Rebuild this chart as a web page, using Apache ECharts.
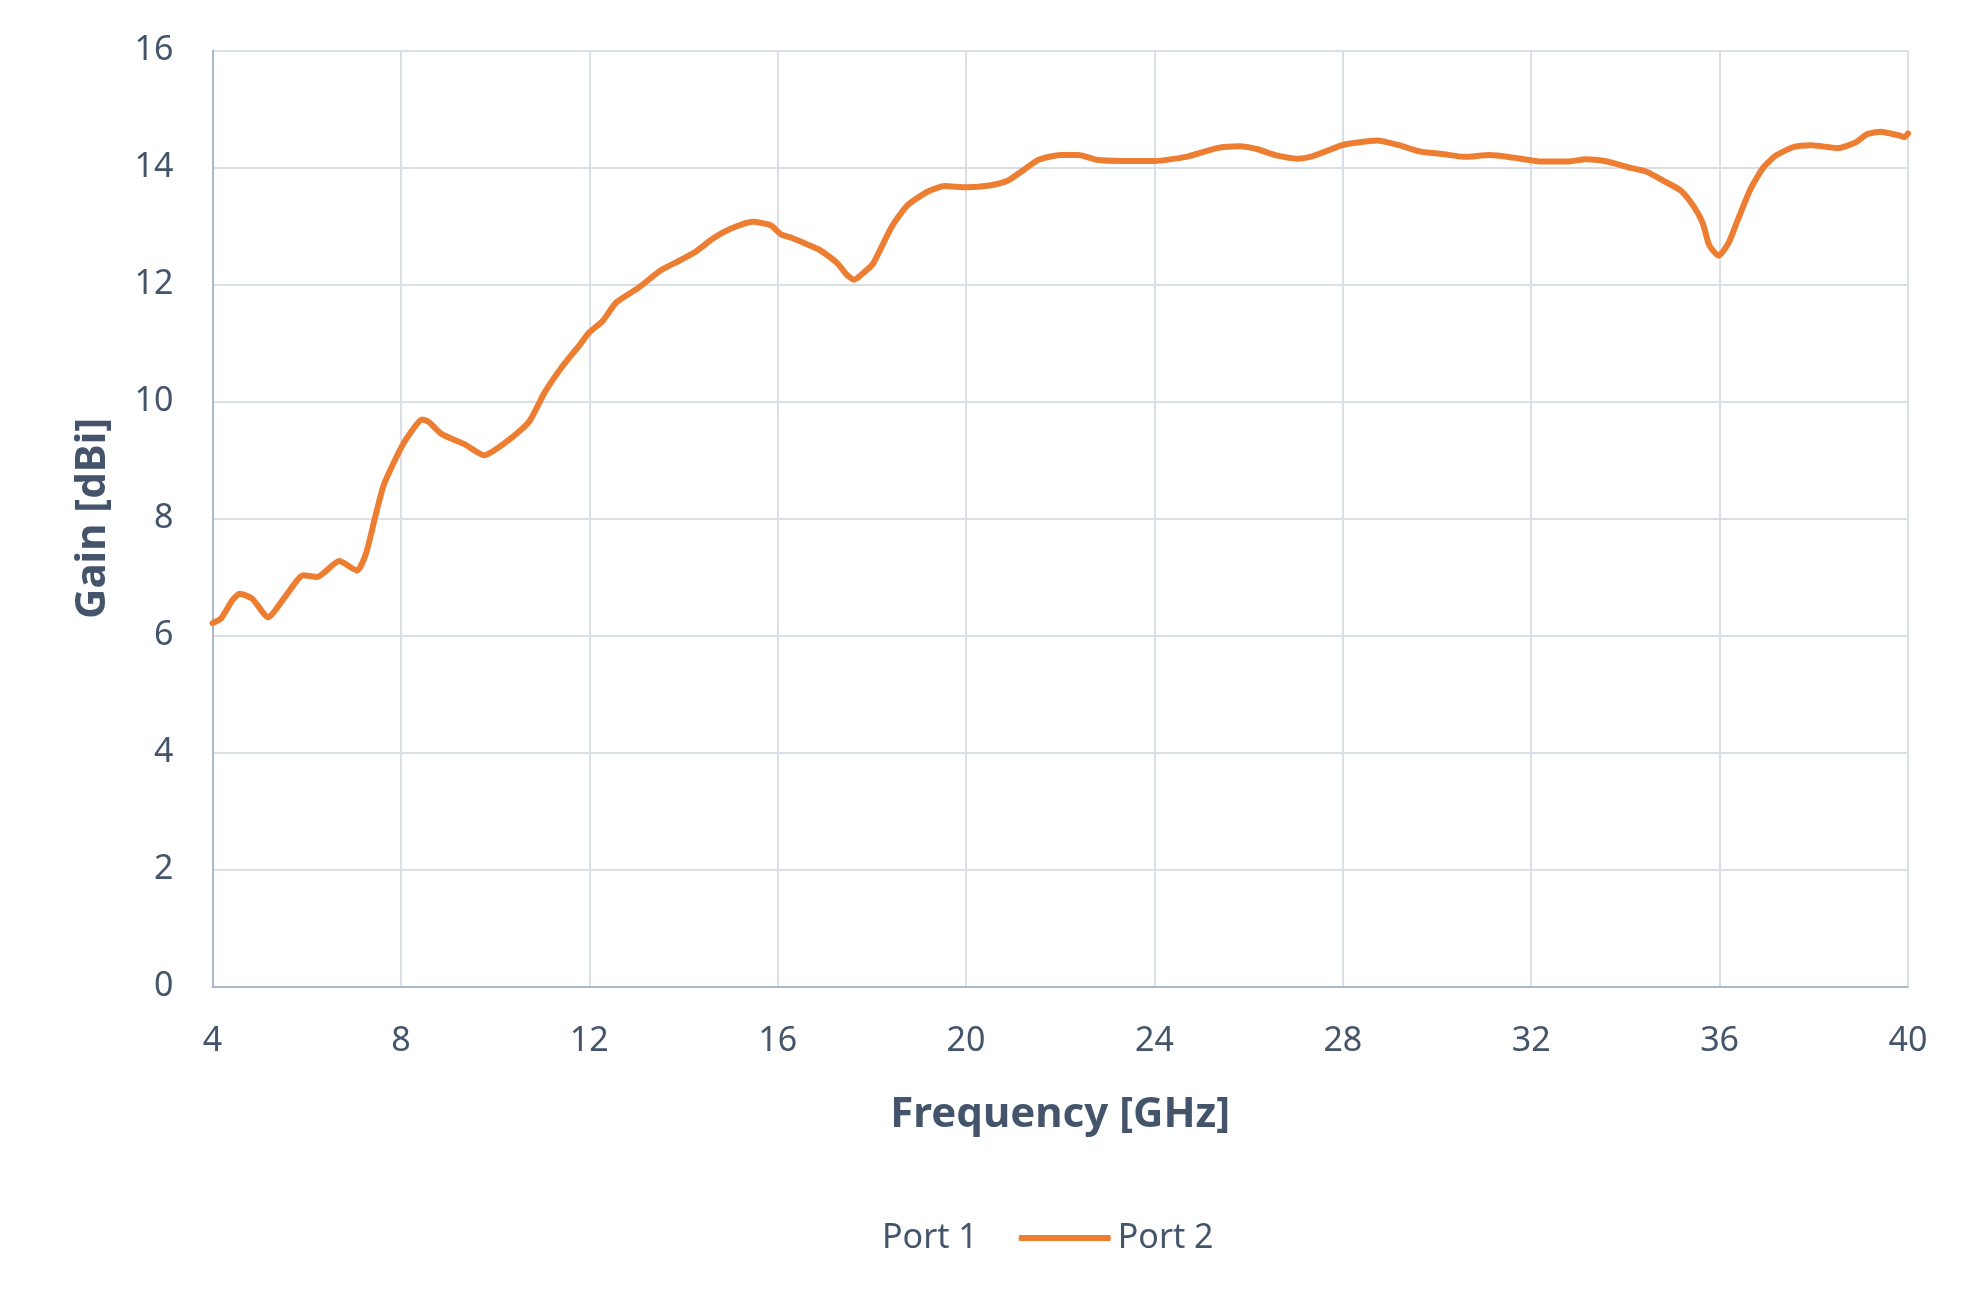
<!DOCTYPE html>
<html><head><meta charset="utf-8">
<script src="https://cdn.jsdelivr.net/npm/echarts@6/dist/echarts.min.js"></script>
<style>html,body{margin:0;padding:0;background:#fff}#c{width:1980px;height:1303px}</style>
</head><body><div id="c"></div>
<script>
const seriesNames = ['Port 1', 'Port 2'];
const port1Freq = [];
const port1Gain = [];
const port2Freq = [4.00,4.18,4.42,4.58,4.84,5.18,5.55,5.93,6.22,6.69,7.07,7.26,7.45,7.64,8.02,8.30,8.45,8.59,8.87,9.35,9.77,10.29,10.72,11.05,11.43,11.81,12.00,12.28,12.57,13.04,13.52,13.90,14.24,14.62,15.00,15.47,15.85,16.08,16.32,16.70,16.89,17.27,17.46,17.62,17.84,18.03,18.41,18.74,19.17,19.55,20.02,20.50,20.88,21.16,21.54,22.01,22.39,22.77,23.34,24.00,24.67,25.33,25.81,26.19,26.57,27.04,27.35,27.62,27.99,28.27,28.73,29.19,29.65,30.11,30.57,31.12,31.68,32.23,32.78,33.15,33.61,34.07,34.44,34.81,35.18,35.46,35.64,35.78,35.98,36.19,36.38,36.65,36.93,37.21,37.58,37.94,38.50,38.87,39.14,39.42,39.79,39.93,40.00];
const port2Gain = [6.21,6.29,6.60,6.71,6.63,6.31,6.67,7.03,7.00,7.27,7.11,7.40,8.01,8.58,9.23,9.57,9.69,9.65,9.44,9.27,9.08,9.34,9.65,10.15,10.60,10.98,11.18,11.37,11.69,11.94,12.24,12.40,12.55,12.78,12.95,13.07,13.01,12.85,12.79,12.66,12.59,12.36,12.17,12.08,12.21,12.36,12.97,13.34,13.58,13.68,13.66,13.69,13.77,13.92,14.13,14.21,14.21,14.13,14.11,14.11,14.18,14.33,14.36,14.31,14.21,14.15,14.19,14.27,14.38,14.42,14.46,14.38,14.27,14.23,14.18,14.21,14.16,14.10,14.10,14.14,14.10,14.00,13.93,13.77,13.60,13.32,13.05,12.67,12.49,12.71,13.09,13.62,14.00,14.21,14.35,14.38,14.33,14.42,14.57,14.61,14.55,14.52,14.58];
const xTicks = [4,8,12,16,20,24,28,32,36,40];
const yTicks = [0,2,4,6,8,10,12,14,16];
const xTitle = 'Frequency [GHz]';
const yTitle = 'Gain [dBi]';

const txt = '#44546A';
const font = 'Noto Sans';
const chart = echarts.init(document.getElementById('c'), null, {renderer:'canvas'});
chart.setOption({
  backgroundColor:'#ffffff',
  animation:false,
  grid:{left:212.5, right:72, top:50.4, bottom:316.6, containLabel:false},
  legend:{
    data:[
      {name:seriesNames[0], icon:'roundRect', itemStyle:{opacity:0}},
      {name:seriesNames[1], icon:'roundRect', itemStyle:{color:'#ED7D31'}}
    ],
    left:778, top:1216, itemWidth:92, itemHeight:6, itemGap:41,
    textStyle:{color:txt, fontFamily:font, fontSize:34, padding:[0,0,0,2]}
  },
  xAxis:{
    type:'value', min:xTicks[0], max:xTicks[xTicks.length-1], interval:4,
    name:xTitle, nameLocation:'middle', nameGap:108,
    nameTextStyle:{color:txt, fontFamily:font, fontSize:42, fontWeight:'bold'},
    axisLine:{show:true, lineStyle:{color:'#ADB9CA', width:2}},
    axisTick:{show:false},
    axisLabel:{color:txt, fontFamily:font, fontSize:34, margin:38},
    splitLine:{show:true, lineStyle:{color:'#D9DEE7', width:2}}
  },
  yAxis:{
    type:'value', min:yTicks[0], max:yTicks[yTicks.length-1], interval:2,
    name:yTitle, nameLocation:'middle', nameGap:98, nameRotate:90,
    nameTextStyle:{color:txt, fontFamily:font, fontSize:42, fontWeight:'bold'},
    axisLine:{show:true, lineStyle:{color:'#ADB9CA', width:2}},
    axisTick:{show:false},
    axisLabel:{color:txt, fontFamily:font, fontSize:34, margin:39},
    splitLine:{show:true, lineStyle:{color:'#D9DEE7', width:2}}
  },
  series:[
    {name:seriesNames[0], type:'line', showSymbol:false, symbol:'none',
     data:port1Freq.map((f,i)=>[f,port1Gain[i]]),
     itemStyle:{color:'#4472C4'}, lineStyle:{width:6}},
    {name:seriesNames[1], type:'line', showSymbol:false, symbol:'none', smooth:0.2,
     data:port2Freq.map((f,i)=>[f,port2Gain[i]]),
     itemStyle:{color:'#ED7D31'}, lineStyle:{width:6, color:'#ED7D31', cap:'round', join:'round'}}
  ]
});
</script></body></html>
